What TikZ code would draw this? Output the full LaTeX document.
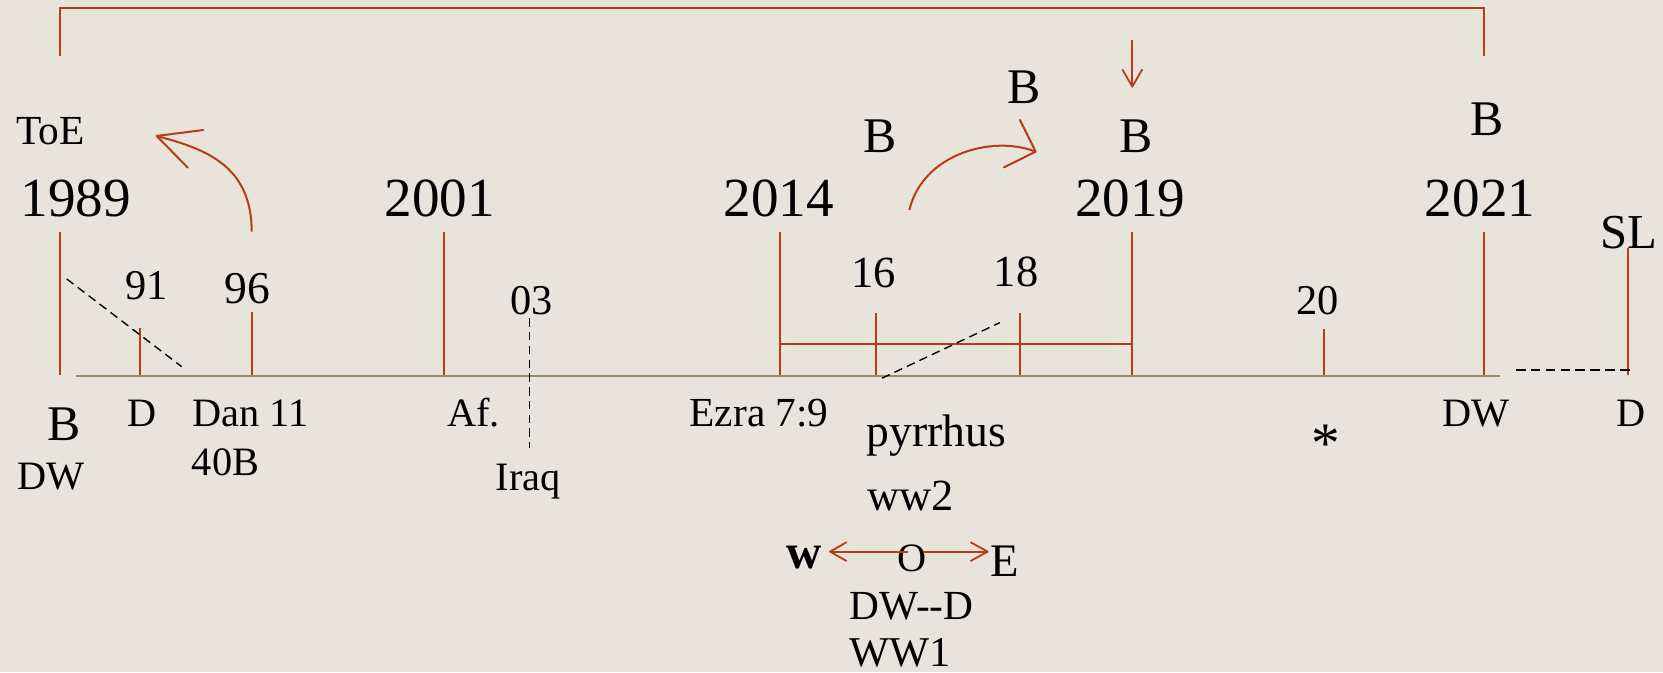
\documentclass[tikz,border=0pt]{standalone}
\usepackage{fontspec}
\setmainfont{Liberation Serif}
\definecolor{bg}{RGB}{232,228,220}
\definecolor{rust}{RGB}{184,60,22}
\definecolor{axisc}{RGB}{155,140,105}
\newcommand\fsz[1]{\fontsize{#1}{#1}\selectfont}
\tikzset{
  lbl/.style={inner sep=0pt, anchor=base, text=black},
  lblw/.style={inner sep=0pt, anchor=base west, text=black},
  redline/.style={draw=rust, line width=1.9pt},
  thinred/.style={draw=rust, line width=1.7pt},
  barb/.style={draw=rust, line width=1.9pt, line cap=round, line join=round},
  dashline/.style={draw=black, line width=1.3pt, dash pattern=on 8pt off 5pt},
  axisline/.style={draw=axisc, line width=2.2pt},
}
\begin{document}
\begin{tikzpicture}[x=1pt,y=-1pt]
\fill[bg] (0,0) rectangle (1568,634);
\useasboundingbox (0,0) rectangle (1568,634);

% axis
\coordinate (axL) at (71.6,354.5);
\coordinate (axR) at (1414.3,354.5);
\draw[axisline] (axL) -- (axR);

% top bracket
\coordinate (tb1) at (56.2,52.8);
\coordinate (tb2) at (56.2,7.9);
\coordinate (tb3) at (1399,7.9);
\coordinate (tb4) at (1399,52.8);
\draw[redline] (tb1) -- (tb2) -- (tb3) -- (tb4);

% years
\node[lbl] (y1989) at (71.6,204.5) {\fsz{52}1989};
\node[lbl] (y2001) at (414.6,204.5) {\fsz{52}2001};
\node[lbl] (y2014) at (734.3,204.4) {\fsz{52}2014};
\node[lbl] (y2019) at (1065.8,204.4) {\fsz{52}2019};
\node[lbl] (y2021) at (1395.5,204.5) {\fsz{52}2021};

% B labels
\node[lbl] (bA) at (830,143.6) {\fsz{47}B};
\node[lbl] (bB) at (965.6,97.4) {\fsz{47}B};
\node[lbl] (bC) at (1071,143.6) {\fsz{47}B};
\node[lbl] (bD) at (1402.5,128) {\fsz{47}B};
\node[lbl] (bE) at (60,415) {\fsz{47}B};

\node[lblw] (toe) at (15,136) {\fsz{39}ToE};
\node[lbl] (sl) at (1536,234.2) {\fsz{46}SL};

% small numbers
\node[lbl] (n91) at (138.5,282) {\fsz{40}91};
\node[lbl] (n96) at (233,286) {\fsz{43}96};
\node[lbl] (n03) at (501.6,297) {\fsz{40}03};
\node[lbl] (n16) at (823.6,271.2) {\fsz{42}16};
\node[lbl] (n18) at (958,270.3) {\fsz{42}18};
\node[lbl] (n20) at (1242.5,297) {\fsz{40}20};

% ticks
\coordinate (t1989a) at (56.6,219);   \coordinate (t1989b) at (56.6,354);
\coordinate (t91a) at (132,309);      \coordinate (t91b) at (132,354);
\coordinate (t96a) at (237.3,294.5);  \coordinate (t96b) at (237.3,354);
\coordinate (t2001a) at (418.6,219);  \coordinate (t2001b) at (418.6,354);
\coordinate (t2014a) at (735.4,219);  \coordinate (t2014b) at (735.4,354);
\coordinate (t16a) at (826,294.8);    \coordinate (t16b) at (826,354);
\coordinate (t18a) at (961.7,294.8);  \coordinate (t18b) at (961.7,354);
\coordinate (t2019a) at (1067.6,219); \coordinate (t2019b) at (1067.6,354);
\coordinate (t20a) at (1248,310);     \coordinate (t20b) at (1248,354);
\coordinate (t2021a) at (1399,219);   \coordinate (t2021b) at (1399,354);
\coordinate (tSLa) at (1535.3,234.2); \coordinate (tSLb) at (1535.3,354);
\foreach \t in {1989,91,96,2001,2014,16,18,2019,20,2021,SL}
  \draw[redline] (t\t a) -- (t\t b);
\draw[redline] (t2014b |- 0,324.3) -- (t2019b |- 0,324.3);

% dashed lines
\coordinate (d1a) at (62.9,263);    \coordinate (d1b) at (171.3,345.7);
\coordinate (d2a) at (831.6,356.6); \coordinate (d2b) at (942.7,304.2);
\coordinate (d3a) at (499,300);     \coordinate (d3b) at (499,422.7);
\coordinate (d4a) at (1429.4,348.9);\coordinate (d4b) at (1538.4,348.9);
\draw[dashline] (d1a) -- (d1b);
\draw[dashline] (d2a) -- (d2b);
\draw[dashline] (d3a) -- (d3b);
\draw[dashline, dash pattern=on 9pt off 5pt] (d4a) -- (d4b);

% labels under axis
\node[lbl] (dwL) at (48.5,462) {\fsz{38}DW};
\node[lbl] (dL) at (134.3,402.3) {\fsz{38}D};
\node[lblw] (dan) at (181.4,402.3) {\fsz{38}Dan 11};
\node[lblw] (b40) at (180.7,447.9) {\fsz{38}40B};
\node[lbl] (af) at (446.3,402.3) {\fsz{38}Af.};
\node[lbl] (iraq) at (498,462.6) {\fsz{38}Iraq};
\node[lbl] (ezra) at (715.8,402.3) {\fsz{39}Ezra 7:9};
\node[lbl] (dwR) at (1391.5,402) {\fsz{38}DW};
\node[lbl] (dR) at (1537.5,402) {\fsz{38}D};
\node[lbl] (star) at (1250.5,436) {\fsz{54}*};
\node[lbl] (pyr) at (883,421.2) {\fsz{43}pyrrhus};
\node[lbl] (ww2) at (858.5,481) {\fsz{42}ww2};
\node[lbl] (wlab) at (758,536) {\fsz{46}\bfseries w};
\node[lbl] (olab) at (859.5,539) {\fsz{38}O};
\node[lbl] (elab) at (947.5,544) {\fsz{44}E};
\node[lbl] (dwd) at (859.5,584) {\fsz{39}DW-{}-D};
\node[lblw] (ww1) at (801,628) {\fsz{40}WW1};

% W <- O -> E arrows
\coordinate (oL) at (856.4,520.1); \coordinate (wTip) at (782.6,520.1);
\coordinate (oR) at (870.6,520.1); \coordinate (eTip) at (931.2,520.1);
\draw[thinred] (oL) -- (wTip);
\draw[thinred, line join=round] (798.3,511.2) -- (wTip) -- (798.3,529);
\draw[thinred] (oR) -- (eTip);
\draw[thinred, line join=round] (915,511.2) -- (eTip) -- (915,529);

% down arrow above 2019
\coordinate (dnA) at (1067.6,37.7); \coordinate (dnTip) at (1067.6,81.7);
\draw[thinred] (dnA) -- (dnTip);
\draw[thinred, line join=round] (1058.2,65.4) -- (dnTip) -- (1077,65.4);

% curved arrow from 96 to ToE
\coordinate (lS) at (237.3,218.4); \coordinate (lT) at (147.7,128.2);
\draw[redline] (lS) .. controls (237.3,155) and (192,140) .. (lT);
\draw[barb] (191.7,122.6) -- (lT) -- (177,158);

% curved arrow from 16 toward 2019
\coordinate (rS) at (857.4,198); \coordinate (rT) at (976.5,143);
\draw[redline] (rS) .. controls (870,145) and (936,127) .. (rT);
\draw[barb] (961.7,113.1) -- (rT) -- (946.6,157.8);
\end{tikzpicture}
\end{document}
